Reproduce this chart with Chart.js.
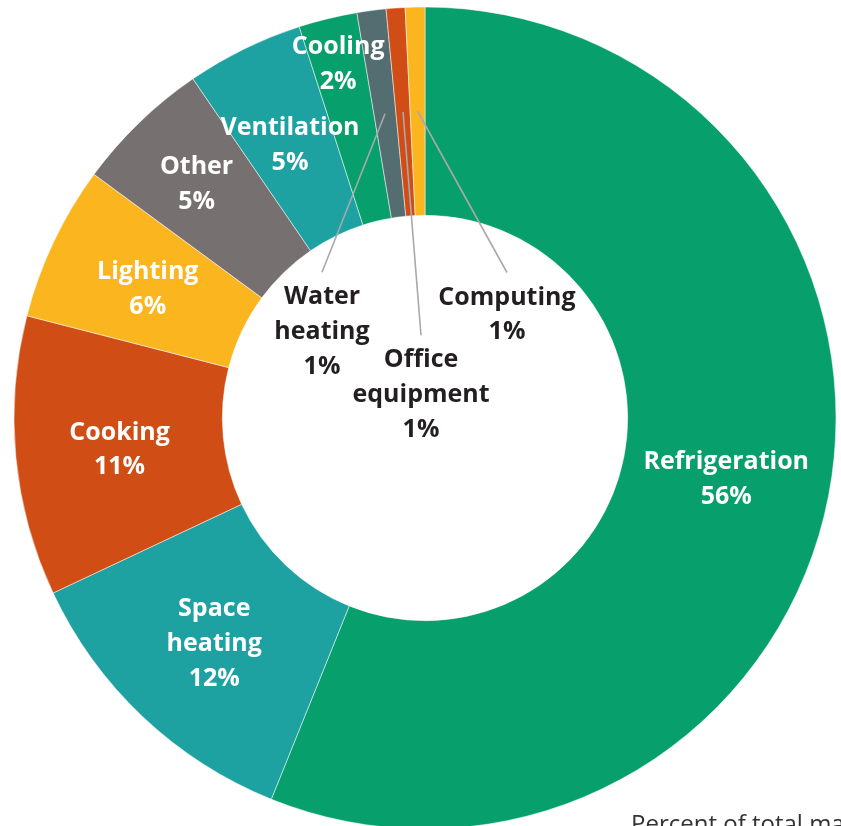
<!DOCTYPE html>
<html>
<head>
<meta charset="utf-8">
<script src="https://cdn.jsdelivr.net/npm/chart.js@4.4.1/dist/chart.umd.min.js"></script>
<style>
  html, body { margin: 0; padding: 0; background: #ffffff; overflow: hidden; }
  #wrap { position: absolute; left: 0; top: 0; width: 850px; height: 836px; }
</style>
</head>
<body>
<div id="wrap"><canvas id="c" width="850" height="836" style="width:850px;height:836px"></canvas></div>
<script>
// ---- Data (percent of total) ----
const categories = ['Refrigeration', 'Space heating', 'Cooking', 'Lighting', 'Other',
                    'Ventilation', 'Cooling', 'Water heating', 'Office equipment', 'Computing'];
const shares = [56.1, 11.9, 11.0, 6.1, 5.35, 4.6, 2.3, 1.14, 0.74, 0.77];
const labelLines = [['Refrigeration'], ['Space', 'heating'], ['Cooking'], ['Lighting'], ['Other'],
                    ['Ventilation'], ['Cooling'], ['Water', 'heating'], ['Office', 'equipment'], ['Computing']];
const pctLabels = ['56%', '12%', '11%', '6%', '5%', '5%', '2%', '1%', '1%', '1%'];
const sliceColors = ['#079F6C', '#1DA1A1', '#D04D15', '#FBB51E', '#767170',
                     '#1DA1A1', '#079F6C', '#536D70', '#D04D15', '#FBB51E'];
const footnote = 'Percent of total major fuel consumption';

// ---- Label placement (styling, not data) ----
// mode 'ring': text on the slice at radius factor (relative to outer radius)
// mode 'hole': text in the hole, offset from chart centre in outer-radius units, with leader line
const labelSpecs = [
  { mode: 'ring' },
  { mode: 'ring' },
  { mode: 'ring' },
  { mode: 'ring' },
  { mode: 'ring', rf: 0.80 },
  { mode: 'ring' },
  { mode: 'ring', rf: 0.893 },
  { mode: 'hole', dx: -0.2506, dy: -0.2165 },
  { mode: 'hole', dx: -0.0097, dy: -0.0633 },
  { mode: 'hole', dx: 0.1995, dy: -0.2579 }
];

const FONT_FAMILY = '"Open Sans", "Noto Sans", sans-serif';
const LINE_H = 34.7;
const TEXT_SHIFT = 3;

const sliceLabelPlugin = {
  id: 'sliceLabels',
  afterDatasetsDraw(chart) {
    const ctx = chart.ctx;
    const meta = chart.getDatasetMeta(0);
    ctx.save();
    ctx.font = 'bold 25px ' + FONT_FAMILY;
    ctx.textAlign = 'center';
    ctx.textBaseline = 'middle';
    meta.data.forEach((arc, i) => {
      const p = arc.getProps(['x', 'y', 'startAngle', 'endAngle', 'innerRadius', 'outerRadius'], true);
      const mid = (p.startAngle + p.endAngle) / 2;
      const spec = labelSpecs[i];
      const lines = labelLines[i].concat([pctLabels[i]]);
      let tx, ty;
      if (spec.mode === 'ring') {
        const r = spec.rf ? spec.rf * p.outerRadius : (p.innerRadius + p.outerRadius) / 2;
        tx = p.x + Math.cos(mid) * r;
        ty = p.y + Math.sin(mid) * r;
        ctx.fillStyle = '#ffffff';
      } else {
        tx = p.x + spec.dx * p.outerRadius;
        ty = p.y + spec.dy * p.outerRadius;
        const rm = (p.innerRadius + p.outerRadius) / 2;
        const sx = p.x + Math.cos(mid) * rm;
        const sy = p.y + Math.sin(mid) * rm;
        const blockTop = ty - lines.length * 34.5 / 2;
        ctx.strokeStyle = '#A7A9AC';
        ctx.lineWidth = 1.6;
        ctx.beginPath();
        ctx.moveTo(sx, sy);
        ctx.lineTo(tx, blockTop - 5);
        ctx.stroke();
        ctx.fillStyle = '#231F20';
      }
      const y0 = ty - (lines.length - 1) * LINE_H / 2 + TEXT_SHIFT;
      lines.forEach((t, k) => ctx.fillText(t, tx, y0 + k * LINE_H));
    });
    // footnote
    ctx.font = '24px ' + FONT_FAMILY;
    ctx.fillStyle = '#333333';
    ctx.textAlign = 'left';
    ctx.textBaseline = 'alphabetic';
    ctx.fillText(footnote, 631, 832);
    ctx.restore();
  }
};

new Chart(document.getElementById('c'), {
  type: 'doughnut',
  data: {
    labels: categories,
    datasets: [{
      data: shares,
      backgroundColor: sliceColors,
      borderColor: '#ffffff',
      borderWidth: 0.5,
      radius: 411,
      cutout: 206
    }]
  },
  options: {
    responsive: false,
    animation: false,
    layout: { padding: 0 },
    plugins: { legend: { display: false }, tooltip: { enabled: false } }
  },
  plugins: [sliceLabelPlugin]
});
</script>
</body>
</html>
